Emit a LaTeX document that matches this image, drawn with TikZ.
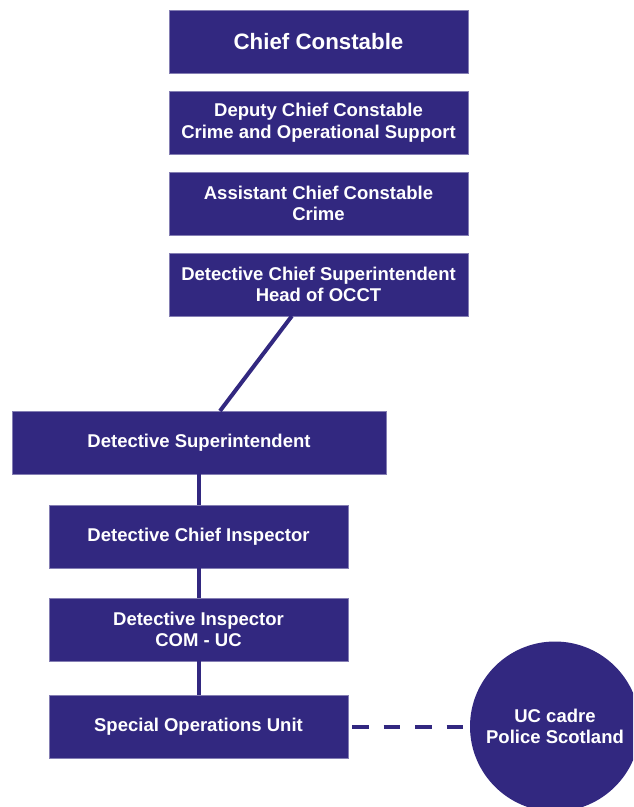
\documentclass[tikz,border=0pt]{standalone}
\usepackage{fontspec}
\setmainfont{Liberation Sans}
\usetikzlibrary{calc}
\definecolor{ink}{RGB}{50,40,128}
\begin{document}
\begin{tikzpicture}[x=1pt,y=-1pt,
  box/.style={fill=ink,draw=ink!60,line width=0.6pt,text=white,align=center,inner sep=0pt,outer sep=0pt,
    font=\fontsize{18.5}{21.5}\selectfont\bfseries},
  link/.style={draw=ink,line width=4pt},
  dashlink/.style={draw=ink,line width=4pt,dash pattern=on 16.5pt off 15pt}]
\useasboundingbox (0,0) rectangle (633,807);
\clip (0,0) rectangle (633,807);
\node[box,minimum width=299pt,minimum height=63pt,font=\fontsize{22.3}{26}\selectfont\bfseries] (cc) at (318.5,41.5) {Chief Constable};
\node[box,minimum width=299pt,minimum height=63pt] (dcc) at (318.5,122.5) {Deputy Chief Constable\\Crime and Operational Support};
\node[box,minimum width=299pt,minimum height=63pt] (acc) at (318.5,203.5) {Assistant Chief Constable\\Crime};
\node[box,minimum width=299pt,minimum height=63pt] (dcs) at (318.5,284.5) {Detective Chief Superintendent\\Head of OCCT};
\node[box,minimum width=374pt,minimum height=63pt] (ds) at (199,442.5) {Detective Superintendent};
\node[box,minimum width=299pt,minimum height=63pt] (dci) at (198.5,536.5) {Detective Chief Inspector};
\node[box,minimum width=299pt,minimum height=63pt] (di) at (198.5,629.5) {Detective Inspector\\COM - UC};
\node[box,minimum width=299pt,minimum height=63pt] (sou) at (198.5,726.5) {Special Operations Unit};
\node[box,circle,draw=none,minimum size=170pt] (uc) at (555,726.5) {UC cadre\\Police Scotland};
\draw[link] ($(dcs.south west)!0.411!(dcs.south east)$) -- ($(ds.north west)!0.556!(ds.north east)$);
\draw[link] (ds.south -| dci.north) -- (dci.north);
\draw[link] (dci.south) -- (di.north);
\draw[link] (di.south) -- (sou.north);
\draw[dashlink,shorten <=4pt,shorten >=6pt] (sou.east) -- (uc.west);
\end{tikzpicture}
\end{document}
